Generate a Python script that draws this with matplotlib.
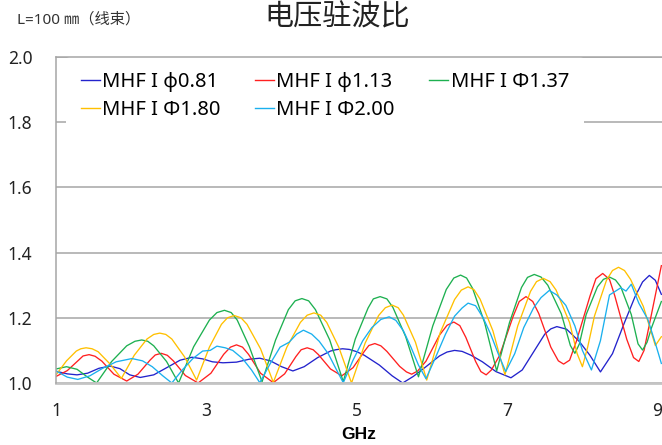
import numpy as np
import matplotlib
matplotlib.use("Agg")
import matplotlib.pyplot as plt

plt.rcParams['font.family'] = ['Noto Sans', 'Noto Sans CJK SC', 'DejaVu Sans']

# series names
labels = ["MHF I φ0.81", "MHF I φ1.13", "MHF I Φ1.37", "MHF I Φ1.80", "MHF I Φ2.00"]
colors = ["#2323cc", "#ff2020", "#1db050", "#ffc000", "#1ab0ee"]

# MHF I 0.81 (blue)
f_081 = [1.00, 1.15, 1.28, 1.42, 1.57, 1.72, 1.85, 1.98, 2.12, 2.30, 2.48, 2.65, 2.81, 2.95, 3.08,
         3.22, 3.40, 3.57, 3.71, 3.85, 4.00, 4.15, 4.30, 4.48, 4.65, 4.72, 4.81, 4.90, 5.00, 5.10,
         5.30, 5.47, 5.61, 5.75, 5.92, 6.10, 6.20, 6.30, 6.40, 6.52, 6.67, 6.85, 7.05, 7.20, 7.35,
         7.50, 7.58, 7.66, 7.79, 7.96, 8.10, 8.24, 8.40, 8.55, 8.70, 8.80, 8.89, 8.97, 9.05]
v_081 = [1.036, 1.028, 1.025, 1.030, 1.045, 1.052, 1.044, 1.025, 1.017, 1.025, 1.048, 1.070, 1.079, 1.074, 1.065,
         1.062, 1.064, 1.073, 1.076, 1.068, 1.050, 1.037, 1.050, 1.078, 1.098, 1.102, 1.105, 1.103, 1.096, 1.085,
         1.055, 1.022, 1.000, 1.020, 1.050, 1.083, 1.095, 1.100, 1.097, 1.085, 1.065, 1.035, 1.016, 1.040, 1.095,
         1.150, 1.166, 1.173, 1.165, 1.127, 1.085, 1.034, 1.090, 1.180, 1.265, 1.310, 1.330, 1.315, 1.272]

# MHF I 1.13 (red)
f_113 = [1.00, 1.15, 1.30, 1.36, 1.44, 1.52, 1.61, 1.77, 1.94, 2.09, 2.25, 2.32, 2.40, 2.48, 2.56,
         2.72, 2.89, 3.06, 3.23, 3.32, 3.40, 3.48, 3.56, 3.72, 3.89, 4.04, 4.19, 4.26, 4.34, 4.42,
         4.49, 4.65, 4.80, 4.95, 5.10, 5.16, 5.24, 5.32, 5.40, 5.57, 5.66, 5.73, 5.81, 5.92, 6.10,
         6.20, 6.29, 6.37, 6.45, 6.58, 6.65, 6.72, 6.79, 6.90, 7.08, 7.16, 7.25, 7.34, 7.42, 7.58,
         7.68, 7.75, 7.83, 7.92, 8.10, 8.18, 8.27, 8.36, 8.43, 8.59, 8.68, 8.75, 8.82, 8.90, 9.05]
v_113 = [1.020, 1.038, 1.070, 1.083, 1.087, 1.082, 1.067, 1.027, 1.006, 1.027, 1.070, 1.086, 1.091, 1.085, 1.068,
         1.023, 1.000, 1.030, 1.088, 1.110, 1.117, 1.110, 1.088, 1.030, 1.001, 1.028, 1.081, 1.102, 1.108, 1.102,
         1.087, 1.043, 1.022, 1.047, 1.097, 1.115, 1.121, 1.114, 1.097, 1.051, 1.034, 1.027, 1.037, 1.067, 1.147,
         1.177, 1.187, 1.176, 1.140, 1.066, 1.035, 1.025, 1.040, 1.085, 1.205, 1.250, 1.265, 1.250, 1.213, 1.110,
         1.068, 1.058, 1.070, 1.128, 1.266, 1.320, 1.336, 1.318, 1.268, 1.134, 1.078, 1.066, 1.100, 1.190, 1.360]

# MHF I 1.37 (green)
f_137 = [1.00, 1.14, 1.28, 1.42, 1.54, 1.74, 1.94, 2.05, 2.14, 2.22, 2.30, 2.47, 2.63, 2.83, 3.04,
         3.14, 3.24, 3.33, 3.41, 3.57, 3.74, 3.92, 4.09, 4.18, 4.27, 4.36, 4.45, 4.64, 4.82, 4.98,
         5.15, 5.22, 5.31, 5.40, 5.48, 5.65, 5.82, 6.01, 6.19, 6.29, 6.38, 6.46, 6.54, 6.70, 6.86,
         7.03, 7.19, 7.27, 7.36, 7.45, 7.54, 7.72, 7.84, 7.90, 7.96, 8.05, 8.20, 8.28, 8.36, 8.44,
         8.51, 8.65, 8.74, 8.80, 8.86, 8.92, 9.05]
v_137 = [1.043, 1.050, 1.042, 1.018, 1.000, 1.066, 1.114, 1.128, 1.132, 1.128, 1.114, 1.066, 1.000, 1.111, 1.193,
         1.216, 1.223, 1.216, 1.193, 1.112, 1.004, 1.132, 1.225, 1.252, 1.259, 1.252, 1.225, 1.132, 1.004, 1.135,
         1.230, 1.258, 1.265, 1.258, 1.232, 1.142, 1.019, 1.175, 1.287, 1.322, 1.331, 1.322, 1.290, 1.185, 1.037,
         1.185, 1.293, 1.324, 1.333, 1.325, 1.300, 1.212, 1.115, 1.091, 1.120, 1.210, 1.295, 1.318, 1.325, 1.316,
         1.295, 1.210, 1.120, 1.101, 1.125, 1.170, 1.250]

# MHF I 1.80 (yellow)
f_180 = [1.00, 1.14, 1.27, 1.33, 1.40, 1.48, 1.56, 1.72, 1.87, 2.04, 2.21, 2.30, 2.38, 2.46, 2.54,
         2.71, 2.87, 3.04, 3.20, 3.28, 3.37, 3.46, 3.54, 3.72, 3.89, 4.07, 4.25, 4.34, 4.43, 4.52,
         4.60, 4.76, 4.93, 5.11, 5.29, 5.38, 5.47, 5.55, 5.62, 5.78, 5.93, 6.11, 6.30, 6.39, 6.48,
         6.56, 6.64, 6.81, 6.97, 7.14, 7.31, 7.39, 7.48, 7.57, 7.65, 7.83, 7.93, 8.00, 8.07, 8.16,
         8.32, 8.40, 8.48, 8.56, 8.64, 8.81, 8.97, 9.05]
v_180 = [1.025, 1.068, 1.098, 1.105, 1.108, 1.105, 1.096, 1.058, 1.014, 1.085, 1.135, 1.149, 1.153, 1.149, 1.135,
         1.080, 1.009, 1.110, 1.180, 1.200, 1.207, 1.200, 1.180, 1.105, 1.002, 1.110, 1.186, 1.208, 1.215, 1.208,
         1.186, 1.110, 1.000, 1.122, 1.207, 1.231, 1.239, 1.231, 1.208, 1.125, 1.009, 1.155, 1.256, 1.285, 1.295,
         1.286, 1.257, 1.160, 1.025, 1.175, 1.281, 1.311, 1.321, 1.311, 1.285, 1.185, 1.090, 1.050, 1.110, 1.205,
         1.315, 1.345, 1.355, 1.345, 1.318, 1.235, 1.115, 1.142]

# MHF I 2.00 (cyan)
f_200 = [1.00, 1.15, 1.29, 1.45, 1.62, 1.80, 2.01, 2.15, 2.28, 2.42, 2.54, 2.68, 2.82, 2.95,
         3.05, 3.14, 3.25, 3.35, 3.48, 3.60, 3.71, 3.85, 3.98, 4.10, 4.20, 4.29, 4.40, 4.50,
         4.62, 4.72, 4.82, 4.95, 5.08, 5.20, 5.32, 5.43, 5.52, 5.62, 5.72, 5.82, 5.92, 6.05,
         6.18, 6.30, 6.40, 6.48, 6.58, 6.68, 6.78, 6.88, 6.98, 7.10, 7.22, 7.35, 7.45, 7.56,
         7.66, 7.78, 7.90, 8.00, 8.12, 8.24, 8.36, 8.51, 8.58, 8.65, 8.75, 8.87, 8.97, 9.05]
v_200 = [1.037, 1.018, 1.011, 1.022, 1.045, 1.065, 1.075, 1.068, 1.050, 1.022, 1.000, 1.040, 1.075, 1.098,
         1.100, 1.113, 1.108, 1.100, 1.075, 1.040, 1.001, 1.060, 1.110, 1.125, 1.150, 1.162, 1.150, 1.128,
         1.090, 1.045, 1.001, 1.070, 1.130, 1.170, 1.195, 1.203, 1.192, 1.160, 1.110, 1.055, 1.013, 1.080,
         1.150, 1.205, 1.230, 1.245, 1.237, 1.200, 1.150, 1.090, 1.035, 1.090, 1.170, 1.230, 1.262, 1.284,
         1.270, 1.238, 1.175, 1.100, 1.040, 1.130, 1.270, 1.292, 1.282, 1.303, 1.245, 1.195, 1.122, 1.060]

xs = [f_081, f_113, f_137, f_180, f_200]
ys = [v_081, v_113, v_137, v_180, v_200]

fig = plt.figure(figsize=(6.62, 4.45), dpi=100)
ax = fig.add_axes([56/662, 1 - 383/445, 1 - 56/662, (383 - 57)/445])

lines = []
for x, y, c, lab in zip(xs, ys, colors, labels):
    l, = ax.plot(x, y, color=c, lw=0.95, label=lab)
    lines.append(l)

ax.set_xlim(1, 1 + (662 - 56)/75.2)
ax.set_ylim(1.0, 2.0)
ax.set_xticks([1, 3, 5, 7, 9])
ax.set_yticks([1.0, 1.2, 1.4, 1.6, 1.8, 2.0])
ax.set_yticklabels(["1.0", "1.2", "1.4", "1.6", "1.8", "2.0"])
ax.tick_params(axis='both', length=0, labelsize=12.5, colors='#222222')
ax.tick_params(axis='y', pad=17)
ax.tick_params(axis='x', pad=14)
ax.yaxis.grid(True, color='#a6a6a6', lw=1.1)
ax.set_axisbelow(True)
ax.spines['right'].set_visible(False)
ax.spines['top'].set_color('#a6a6a6')
ax.spines['top'].set_linewidth(1.1)
ax.spines['top'].set_zorder(6)
ax.spines['left'].set_color('#a6a6a6')
ax.spines['left'].set_linewidth(1.1)
ax.spines['left'].set_zorder(6)
ax.spines['bottom'].set_color('#c4c4c4')
ax.spines['bottom'].set_linewidth(2)

ax.set_xlabel("GHz", fontsize=12.5, fontweight='bold', family='Liberation Sans', labelpad=5)

# legend filled row by row like the original
order = [0, 3, 1, 4, 2]
leg = ax.legend([lines[i] for i in order], [labels[i] for i in order],
                loc='upper left', bbox_to_anchor=(0.0, 1.03), ncol=3, fontsize=14.5,
                frameon=True, facecolor='white', edgecolor='none', framealpha=1,
                handlelength=0.95, handletextpad=0.12, columnspacing=1.7,
                borderpad=0.72, labelspacing=0.4, borderaxespad=0.5)
for h in leg.get_lines():
    h.set_linewidth(1.0)

fig.text(337/662, 1 - 18/445, "电压驻波比", fontsize=21, ha='center', va='center', color='#222222')
fig.text(17/662, 1 - 20/445, "L=100 ㎜（线束）", fontsize=11, ha='left', va='center', color='#333333')

fig.savefig("out.png", dpi=100)
